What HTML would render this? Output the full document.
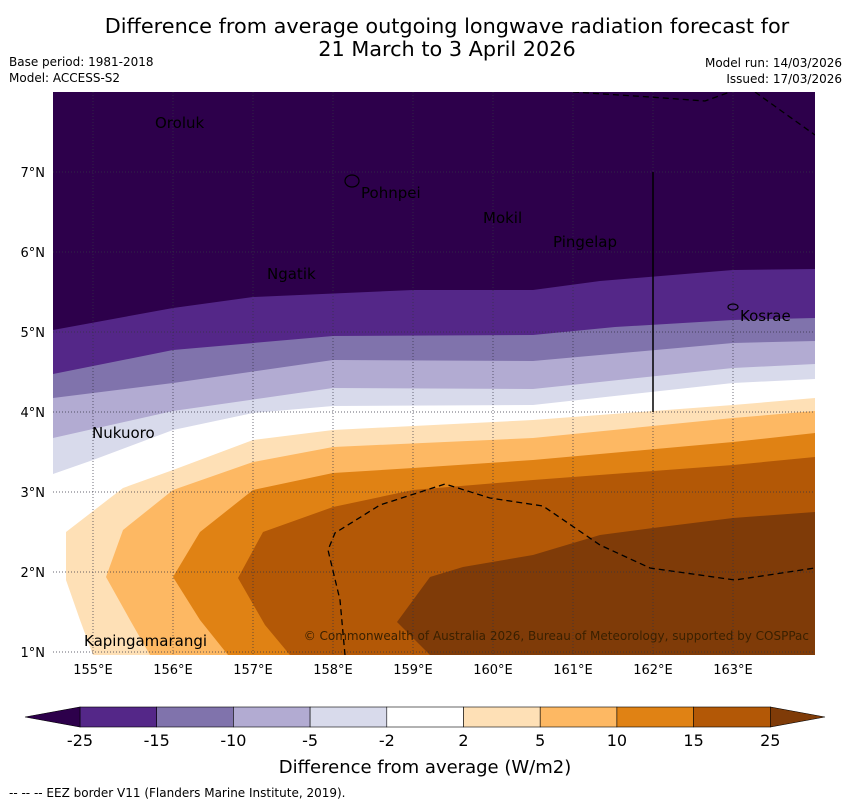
<!DOCTYPE html>
<html><head><meta charset="utf-8"><style>
body{margin:0;background:#fff;font-family:"Liberation Sans","DejaVu Sans",sans-serif}
</style></head><body>
<svg id="chart" width="850" height="804" xmlns="http://www.w3.org/2000/svg" font-family="DejaVu Sans, Liberation Sans, sans-serif">
<text x="447" y="33" text-anchor="middle" font-size="20.8">Difference from average outgoing longwave radiation forecast for</text>
<text x="447" y="56" text-anchor="middle" font-size="20.8">21 March to 3 April 2026</text>
<text x="9" y="66" font-size="12">Base period: 1981-2018</text>
<text x="9" y="82" font-size="12">Model: ACCESS-S2</text>
<text x="842" y="67" font-size="12" text-anchor="end">Model run: 14/03/2026</text>
<text x="842" y="83" font-size="12" text-anchor="end">Issued: 17/03/2026</text>
<defs><clipPath id="mc"><rect x="53" y="92" width="762" height="563"/></clipPath></defs>
<g id="map" clip-path="url(#mc)">
<rect x="53" y="92" width="762" height="563" fill="#2d004b"/>
</g>
<g id="cbar"></g>
<text x="425" y="773" text-anchor="middle" font-size="18">Difference from average (W/m2)</text>
<text x="9" y="797" font-size="12">--  --  -- EEZ border V11 (Flanders Marine Institute, 2019).</text>
</svg>
<script>
const NS="http://www.w3.org/2000/svg";
const lonMin=154.5, lonMax=164.025, latMin=0.9625, latMax=8;
const X0=53,X1=815,Y0=92,Y1=655;
function xs(lon){return X0+(lon-lonMin)*80;}
function ys(lat){return Y0+(latMax-lat)*80;}
function px2ll(p){return [lonMin+(p[0]-X0)/80, latMax-(p[1]-Y0)/80];}
const contourLevels=["-25","-15","-10","-5","-2","2","5","10","15","25"];
const bandColors=["#542788","#8073ac","#b2abd2","#d8daeb","#ffffff","#fee0b6","#fdb863","#e08214","#b35806","#7f3b08"];
const c_m25=[[53,330],[173,308],[253,297],[413,290],[533,290],[600,281],[733,270],[815,269]].map(px2ll);
const c_m15=[[53,374],[173,350],[333,336],[533,335],[615,327],[733,320],[815,318]].map(px2ll);
const c_m10=[[53,398],[173,383],[333,360],[533,361],[733,343],[815,341]].map(px2ll);
const c_m5=[[53,438],[173,411],[333,388],[533,389],[733,368],[815,364]].map(px2ll);
const c_m2=[[53,474],[93,460],[173,430],[253,413],[333,406],[533,405],[733,383],[815,379]].map(px2ll);
const c_p2=[[815,398],[733,405],[533,420],[333,430],[253,440],[173,470],[123,488],[66,532],[66,580],[80,620],[93,655]].map(px2ll);
const c_p5=[[815,411],[733,418],[533,438],[333,447],[253,462],[173,490],[123,530],[106,577],[130,620],[150,655]].map(px2ll);
const c_p10=[[815,433],[733,442],[533,460],[413,468],[333,473],[253,490],[200,532],[173,577],[200,620],[228,655]].map(px2ll);
const c_p15=[[815,457],[733,465],[533,480],[413,490],[333,507],[263,532],[238,578],[265,625],[290,655]].map(px2ll);
const c_p25=[[815,512],[733,518],[653,528],[600,535],[533,555],[463,567],[430,577],[397,622],[430,655]].map(px2ll);
const contours=[c_m25,c_m15,c_m10,c_m5,c_m2,c_p2,c_p5,c_p10,c_p15,c_p25];
const map=document.getElementById('map');
contours.forEach((c,i)=>{
  let pts=c.map(p=>xs(p[0])+','+ys(p[1]));
  if(i<5){pts.push(xs(lonMax)+','+ys(latMin));pts.push(xs(lonMin)+','+ys(latMin));}
  else{pts.push(xs(lonMax)+','+ys(latMin));}
  const pg=document.createElementNS(NS,'polygon');
  pg.setAttribute('points',pts.join(' '));
  pg.setAttribute('fill',bandColors[i]);
  
  
  map.appendChild(pg);
});
const lonTicks=[155,156,157,158,159,160,161,162,163];
const latTicks=[1,2,3,4,5,6,7];
lonTicks.forEach(l=>{
  const ln=document.createElementNS(NS,'line');
  ln.setAttribute('x1',xs(l));ln.setAttribute('x2',xs(l));ln.setAttribute('y1',Y0);ln.setAttribute('y2',Y1);
  ln.setAttribute('stroke','#334');ln.setAttribute('stroke-width','0.7');ln.setAttribute('stroke-dasharray','1,2');
  
  
  map.appendChild(ln);
  const t=document.createElementNS(NS,'text');
  t.setAttribute('x',xs(l));t.setAttribute('y',674);t.setAttribute('text-anchor','middle');t.setAttribute('font-size','13');
  t.textContent=l+'°E';
  
  
  document.getElementById('chart').appendChild(t);
});
latTicks.forEach(l=>{
  const ln=document.createElementNS(NS,'line');
  ln.setAttribute('x1',X0);ln.setAttribute('x2',X1);ln.setAttribute('y1',ys(l));ln.setAttribute('y2',ys(l));
  ln.setAttribute('stroke','#334');ln.setAttribute('stroke-width','0.7');ln.setAttribute('stroke-dasharray','1,2');
  
  
  map.appendChild(ln);
  const t=document.createElementNS(NS,'text');
  t.setAttribute('x',45);t.setAttribute('y',ys(l)+5);t.setAttribute('text-anchor','end');t.setAttribute('font-size','13');
  t.textContent=l+'°N';
  
  
  document.getElementById('chart').appendChild(t);
});
const eez=[
 [[573,92],[650,97],[705,101],[730,92]],
 [[755,92],[815,135]],
 [[345,655],[340,600],[328,550],[335,533],[380,505],[445,484],[490,498],[543,506],[600,545],[650,568],[735,580],[815,568]]
].map(l=>l.map(px2ll));
eez.forEach((l,i)=>{
  const pl=document.createElementNS(NS,'polyline');
  pl.setAttribute('points',l.map(p=>xs(p[0])+','+ys(p[1])).join(' '));
  pl.setAttribute('fill','none');pl.setAttribute('stroke','#000');pl.setAttribute('stroke-width','1.3');pl.setAttribute('stroke-dasharray','6,4');
  
  
  map.appendChild(pl);
});
const sl=document.createElementNS(NS,'line');
sl.setAttribute('x1',xs(162));sl.setAttribute('x2',xs(162));sl.setAttribute('y1',ys(7));sl.setAttribute('y2',ys(4));
sl.setAttribute('stroke','#000');sl.setAttribute('stroke-width','1.5');


map.appendChild(sl);
const places=[["Oroluk",155,128],["Pohnpei",361,198],["Mokil",483,223],["Pingelap",553,247],["Ngatik",267,279],["Kosrae",740,321],["Nukuoro",92,438],["Kapingamarangi",84,646]];
places.forEach(p=>{
  const t=document.createElementNS(NS,'text');
  t.setAttribute('x',p[1]);t.setAttribute('y',p[2]);t.setAttribute('font-size','15');
  t.textContent=p[0];
  
  
  map.appendChild(t);
});
const isl=[[352,181,7,6],[733,307,5,3]];
isl.forEach((s,i)=>{
  const e=document.createElementNS(NS,'ellipse');
  e.setAttribute('cx',s[0]);e.setAttribute('cy',s[1]);e.setAttribute('rx',s[2]);e.setAttribute('ry',s[3]);
  e.setAttribute('fill','none');e.setAttribute('stroke','#000');e.setAttribute('stroke-width','1.2');
  
  
  map.appendChild(e);
});
const cp=document.createElementNS(NS,'text');
cp.setAttribute('x',809);cp.setAttribute('y',640);cp.setAttribute('text-anchor','end');cp.setAttribute('font-size','12');cp.setAttribute('fill','#3a2000');
cp.textContent='© Commonwealth of Australia 2026, Bureau of Meteorology, supported by COSPPac';


map.appendChild(cp);
const cb=document.getElementById('cbar');
const cbX0=80,cbW=76.7,cbY=707,cbH=20;
const cbColors=["#542788","#8073ac","#b2abd2","#d8daeb","#ffffff","#fee0b6","#fdb863","#e08214","#b35806"];
const cbLabels=["-25","-15","-10","-5","-2","2","5","10","15","25"];
cbColors.forEach((c,i)=>{
  const r=document.createElementNS(NS,'rect');
  r.setAttribute('x',cbX0+i*cbW);r.setAttribute('y',cbY);r.setAttribute('width',cbW);r.setAttribute('height',cbH);
  r.setAttribute('fill',c);r.setAttribute('stroke','#000');r.setAttribute('stroke-width','0.6');
  
  
  cb.appendChild(r);
});
const lt=document.createElementNS(NS,'polygon');
lt.setAttribute('points',`${cbX0},${cbY} ${cbX0},${cbY+cbH} 25,${cbY+cbH/2}`);lt.setAttribute('fill','#2d004b');lt.setAttribute('stroke','#000');lt.setAttribute('stroke-width','0.6');


cb.appendChild(lt);
const rt=document.createElementNS(NS,'polygon');
const ex=cbX0+9*cbW;
rt.setAttribute('points',`${ex},${cbY} ${ex},${cbY+cbH} 825,${cbY+cbH/2}`);rt.setAttribute('fill','#7f3b08');rt.setAttribute('stroke','#000');rt.setAttribute('stroke-width','0.6');


cb.appendChild(rt);
cbLabels.forEach((l,i)=>{
  const t=document.createElementNS(NS,'text');
  t.setAttribute('x',cbX0+i*cbW);t.setAttribute('y',746);t.setAttribute('text-anchor','middle');t.setAttribute('font-size','16');
  t.textContent=l;
  
  
  cb.appendChild(t);
});
</script>
</body></html>
